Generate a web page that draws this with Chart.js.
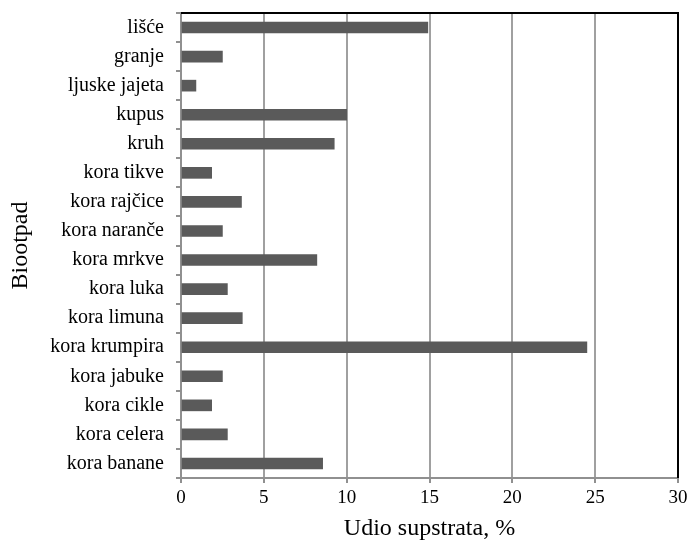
<!DOCTYPE html>
<html>
<head>
<meta charset="utf-8">
<script src="https://cdn.jsdelivr.net/npm/chart.js@4"></script>
<style>
  html, body { margin: 0; padding: 0; background: #fff; }
  canvas { display: block; }
</style>
</head>
<body>
<canvas id="chart" width="689" height="543"></canvas>
<script>
const categories = [
  "lišće", "granje", "ljuske jajeta", "kupus", "kruh", "kora tikve",
  "kora rajčice", "kora naranče", "kora mrkve", "kora luka", "kora limuna",
  "kora krumpira", "kora jabuke", "kora cikle", "kora celera", "kora banane"
];
const udio = [14.9, 2.5, 0.9, 10.0, 9.25, 1.85, 3.65, 2.5, 8.2, 2.8, 3.7, 24.5, 2.5, 1.85, 2.8, 8.55];
const xTicks = [0, 5, 10, 15, 20, 25, 30];

const serif = "'Liberation Serif', 'Times New Roman', serif";

// top and right border of the plot, black like the original
const frame = {
  id: "frame",
  afterDraw(chart) {
    const a = chart.chartArea;
    const ctx = chart.ctx;
    ctx.save();
    ctx.strokeStyle = "#000";
    ctx.lineWidth = 2;
    ctx.beginPath();
    ctx.moveTo(a.left, a.top);
    ctx.lineTo(a.right, a.top);
    ctx.lineTo(a.right, a.bottom);
    ctx.stroke();
    ctx.restore();
  }
};

new Chart(document.getElementById("chart"), {
  type: "bar",
  data: {
    labels: categories,
    datasets: [{
      data: udio,
      backgroundColor: "#5a5a5a",
      barThickness: 11
    }]
  },
  options: {
    indexAxis: "y",
    responsive: false,
    animation: false,
    devicePixelRatio: 1,
    layout: { padding: { top: 13, right: 11, left: 0, bottom: 0 } },
    plugins: {
      legend: { display: false },
      tooltip: { enabled: false }
    },
    scales: {
      x: {
        min: 0,
        max: 30,
        afterBuildTicks(scale) {
          scale.ticks = xTicks.map(v => ({ value: v }));
        },
        afterFit(scale) {
          scale.height = 65;
          scale.paddingLeft = 0;
          scale.paddingRight = 0;
        },
        grid: {
          color: ctx => ctx.tick && ctx.tick.value === 30 ? "#000" : "#a0a0a0",
          lineWidth: 2,
          tickLength: 5,
          tickColor: "#909090"
        },
        border: { color: "#909090", width: 2 },
        ticks: {
          color: "#000",
          padding: 4,
          font: { family: serif, size: 19 }
        },
        title: {
          display: true,
          text: "Udio supstrata, %",
          color: "#000",
          padding: { top: 0, bottom: 0 },
          font: { family: serif, size: 24 }
        }
      },
      y: {
        afterFit(scale) {
          scale.width = 181;
          scale.paddingTop = 0;
          scale.paddingBottom = 0;
        },
        grid: {
          drawOnChartArea: false,
          tickLength: 5,
          tickColor: "#909090",
          lineWidth: 2
        },
        border: { color: "#909090", width: 2 },
        ticks: {
          color: "#000",
          padding: 12,
          font: { family: serif, size: 20 }
        },
        title: {
          display: true,
          text: "Biootpad",
          color: "#000",
          padding: { top: 6, bottom: 0 },
          font: { family: serif, size: 24 }
        }
      }
    }
  },
  plugins: [frame]
});
</script>
</body>
</html>
